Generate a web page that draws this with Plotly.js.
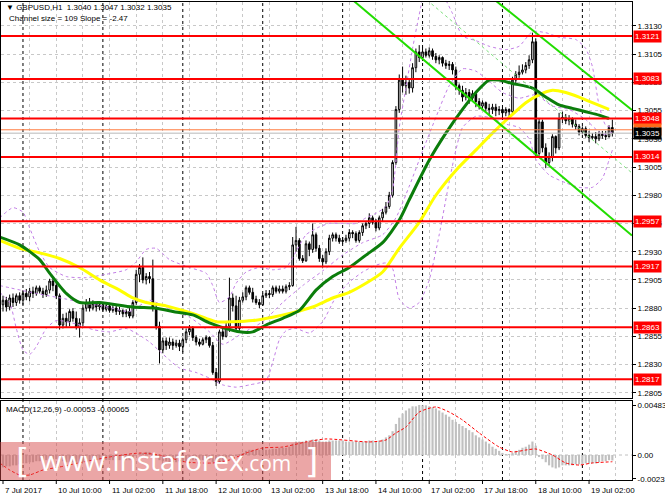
<!DOCTYPE html>
<html><head><meta charset="utf-8">
<script src="https://cdn.plot.ly/plotly-3.0.1.min.js"></script>
<style>html,body{margin:0;padding:0;background:#fff}#chart{width:665px;height:499px}</style>
</head><body><div id="chart"></div>
<script>
// ---------- DATA ----------
const openP = [1.2883,1.2887,1.2881,1.2889,1.2885,1.2891,1.2887,1.2893,1.2890,1.2895,
1.2893,1.2898,1.2895,1.2892,1.2896,1.2904,1.2900,1.2891,1.2865,1.2871,
1.2868,1.2877,1.2871,1.2863,1.2867,1.2880,1.2885,1.2880,1.2884,1.2881,
1.2883,1.2879,1.2882,1.2878,1.2880,1.2877,1.2878,1.2875,1.2877,1.2873,
1.2885,1.2910,1.2916,1.2905,1.2908,1.2906,1.2880,1.2864,1.2843,1.2851,
1.2847,1.2850,1.2847,1.2849,1.2846,1.2852,1.2859,1.2862,1.2854,1.2850,
1.2848,1.2852,1.2854,1.2847,1.2823,1.2815,1.2859,1.2855,1.2864,1.2889,
1.2882,1.2862,1.2887,1.2890,1.2898,1.2894,1.2888,1.2885,1.2883,1.2891,
1.2893,1.2892,1.2898,1.2895,1.2897,1.2895,1.2899,1.2900,1.2936,1.2940,
1.2924,1.2922,1.2937,1.2932,1.2945,1.2933,1.2924,1.2921,1.2930,1.2942,
1.2945,1.2942,1.2939,1.2940,1.2942,1.2947,1.2946,1.2940,1.2947,1.2953,
1.2955,1.2960,1.2956,1.2951,1.2960,1.2965,1.2970,1.2980,1.3009,1.3056,
1.3082,1.3077,1.3080,1.3075,1.3093,1.3107,1.3102,1.3107,1.3104,1.3108,
1.3103,1.3100,1.3102,1.3097,1.3095,1.3096,1.3091,1.3077,1.3073,1.3067,
1.3071,1.3066,1.3070,1.3063,1.3059,1.3062,1.3057,1.3056,1.3058,1.3055,
1.3056,1.3053,1.3056,1.3054,1.3082,1.3087,1.3089,1.3091,1.3095,1.3100,
1.3116,1.3017,1.3045,1.3022,1.3009,1.3014,1.3032,1.3022,1.3048,1.3049,
1.3046,1.3048,1.3043,1.3041,1.3036,1.3039,1.3033,1.3031,1.3032,1.3030,
1.3034,1.3033,1.3032,1.3040];
const highP = [1.2891,1.2890,1.2892,1.2893,1.2893,1.2894,1.2896,1.2897,1.2898,1.2899,
1.2900,1.2900,1.2898,1.2900,1.2906,1.2907,1.2903,1.2893,1.2875,1.2876,
1.2879,1.2880,1.2877,1.2871,1.2883,1.2888,1.2889,1.2887,1.2885,1.2885,
1.2885,1.2884,1.2883,1.2883,1.2882,1.2881,1.2879,1.2879,1.2880,1.2887,
1.2914,1.2919,1.2925,1.2911,1.2912,1.2923,1.2883,1.2868,1.2854,1.2854,
1.2854,1.2853,1.2852,1.2852,1.2854,1.2862,1.2865,1.2864,1.2856,1.2853,
1.2854,1.2856,1.2855,1.2850,1.2827,1.2861,1.2862,1.2868,1.2907,1.2893,
1.2891,1.2890,1.2894,1.2900,1.2900,1.2898,1.2891,1.2888,1.2893,1.2896,
1.2896,1.2900,1.2900,1.2900,1.2900,1.2901,1.2903,1.2943,1.2952,1.2942,
1.2927,1.2940,1.2939,1.2955,1.2947,1.2936,1.2927,1.2933,1.2945,1.2947,
1.2947,1.2945,1.2943,1.2945,1.2950,1.2949,1.2948,1.2949,1.2955,1.2957,
1.2964,1.2962,1.2959,1.2962,1.2968,1.2974,1.2983,1.3011,1.3059,1.3087,
1.3094,1.3086,1.3083,1.3097,1.3110,1.3113,1.3111,1.3110,1.3111,1.3110,
1.3106,1.3104,1.3103,1.3100,1.3099,1.3098,1.3094,1.3079,1.3077,1.3075,
1.3074,1.3073,1.3071,1.3066,1.3064,1.3063,1.3061,1.3061,1.3061,1.3059,
1.3058,1.3058,1.3057,1.3085,1.3090,1.3095,1.3096,1.3098,1.3104,1.3124,
1.3119,1.3048,1.3047,1.3026,1.3018,1.3034,1.3033,1.3053,1.3054,1.3052,
1.3051,1.3049,1.3047,1.3043,1.3041,1.3041,1.3037,1.3035,1.3036,1.3037,
1.3037,1.3037,1.3042,1.3047];
const lowP = [1.2877,1.2877,1.2878,1.2881,1.2882,1.2884,1.2883,1.2887,1.2886,1.2889,
1.2891,1.2893,1.2889,1.2890,1.2893,1.2895,1.2888,1.2861,1.2862,1.2863,
1.2864,1.2868,1.2861,1.2854,1.2864,1.2877,1.2877,1.2878,1.2877,1.2878,
1.2877,1.2877,1.2876,1.2876,1.2874,1.2874,1.2872,1.2872,1.2871,1.2871,
1.2883,1.2903,1.2902,1.2901,1.2902,1.2877,1.2861,1.2831,1.2840,1.2843,
1.2844,1.2843,1.2845,1.2842,1.2841,1.2849,1.2856,1.2851,1.2847,1.2846,
1.2847,1.2849,1.2845,1.2821,1.2811,1.2813,1.2852,1.2854,1.2859,1.2877,
1.2859,1.2860,1.2885,1.2887,1.2892,1.2885,1.2883,1.2880,1.2882,1.2889,
1.2889,1.2890,1.2893,1.2893,1.2893,1.2893,1.2896,1.2899,1.2930,1.2922,
1.2920,1.2921,1.2926,1.2929,1.2930,1.2921,1.2916,1.2919,1.2927,1.2939,
1.2939,1.2937,1.2937,1.2938,1.2939,1.2942,1.2938,1.2938,1.2944,1.2950,
1.2951,1.2954,1.2948,1.2949,1.2957,1.2963,1.2968,1.2978,1.3007,1.3053,
1.3071,1.3069,1.3070,1.3071,1.3089,1.3098,1.3099,1.3102,1.3102,1.3100,
1.3097,1.3096,1.3094,1.3092,1.3091,1.3087,1.3073,1.3069,1.3063,1.3064,
1.3061,1.3063,1.3058,1.3056,1.3056,1.3054,1.3051,1.3052,1.3050,1.3051,
1.3049,1.3050,1.3049,1.3052,1.3079,1.3084,1.3087,1.3088,1.3092,1.3097,
1.3014,1.3015,1.3018,1.3004,1.3006,1.3010,1.3017,1.3020,1.3044,1.3043,
1.3042,1.3040,1.3038,1.3033,1.3034,1.3031,1.3027,1.3029,1.3026,1.3028,
1.3030,1.3029,1.3031,1.3032];
const closeP = [1.2887,1.2881,1.2889,1.2885,1.2891,1.2887,1.2893,1.2890,1.2895,1.2893,
1.2898,1.2895,1.2892,1.2896,1.2904,1.2900,1.2891,1.2865,1.2871,1.2868,
1.2877,1.2871,1.2863,1.2867,1.2880,1.2885,1.2880,1.2884,1.2881,1.2883,
1.2879,1.2882,1.2878,1.2880,1.2877,1.2878,1.2875,1.2877,1.2873,1.2885,
1.2910,1.2916,1.2905,1.2908,1.2906,1.2880,1.2864,1.2843,1.2851,1.2847,
1.2850,1.2847,1.2849,1.2846,1.2852,1.2859,1.2862,1.2854,1.2850,1.2848,
1.2852,1.2854,1.2847,1.2823,1.2815,1.2859,1.2855,1.2864,1.2889,1.2882,
1.2862,1.2887,1.2890,1.2898,1.2894,1.2888,1.2885,1.2883,1.2891,1.2893,
1.2892,1.2898,1.2895,1.2897,1.2895,1.2899,1.2900,1.2936,1.2940,1.2924,
1.2922,1.2937,1.2932,1.2945,1.2933,1.2924,1.2921,1.2930,1.2942,1.2945,
1.2942,1.2939,1.2940,1.2942,1.2947,1.2946,1.2940,1.2947,1.2953,1.2955,
1.2960,1.2956,1.2951,1.2960,1.2965,1.2970,1.2980,1.3009,1.3056,1.3082,
1.3077,1.3080,1.3075,1.3093,1.3107,1.3102,1.3107,1.3104,1.3108,1.3103,
1.3100,1.3102,1.3097,1.3095,1.3096,1.3091,1.3077,1.3073,1.3067,1.3071,
1.3066,1.3070,1.3063,1.3059,1.3062,1.3057,1.3056,1.3058,1.3055,1.3056,
1.3053,1.3056,1.3054,1.3082,1.3087,1.3089,1.3091,1.3095,1.3100,1.3116,
1.3017,1.3045,1.3022,1.3009,1.3014,1.3032,1.3022,1.3048,1.3049,1.3046,
1.3048,1.3043,1.3041,1.3036,1.3039,1.3033,1.3031,1.3032,1.3030,1.3034,
1.3033,1.3032,1.3040,1.3035];

// moving averages (bar index, price)
const maGreenX = [-1,5,11,14,19,23,29,39,46,51,57,62,67,71,75,79,84,89,94,99,104,109,114,119,122,128,133,138,142,146,149,153,159,163,167,171,175,179,182];
const maGreenY = [1.2943,1.2936,1.2923,1.2911,1.2893,1.2885,1.2885,1.2881,1.2880,1.2877,1.2874,1.2867,1.2862,1.2859,1.2859,1.2865,1.2871,1.2878,1.2896,1.2908,1.2916,1.2927,1.2938,1.2958,1.2976,1.3011,1.3035,1.3056,1.3071,1.3082,1.3082,1.3079,1.3075,1.3067,1.3060,1.3057,1.3054,1.3051,1.3048];
const maYellowX = [-1,5,11,17,23,29,35,39,43,49,55,61,64,69,75,81,87,93,99,104,109,114,119,125,130,136,142,147,152,157,161,165,169,173,177,182];
const maYellowY = [1.2940,1.2933,1.2929,1.2924,1.2916,1.2905,1.2896,1.2889,1.2885,1.2882,1.2877,1.2871,1.2868,1.2868,1.2869,1.2872,1.2876,1.2881,1.2889,1.2894,1.2902,1.2912,1.2933,1.2956,1.2980,1.3002,1.3020,1.3035,1.3049,1.3062,1.3069,1.3073,1.3071,1.3067,1.3062,1.3056];

// bands (bar index, price)
const bbUpX = [-1,3,6,8,11,14,19,25,31,37,40,43,46,50,56,61,63,65,68,70,73,77,81,85,88,91,95,98,102,106,109,112,115,117,119,121,123,125,127,130,133,135,138,142,146,151,155,159,163,167,172,175,177,179,181,183];
const bbUpY = [1.2960,1.2969,1.2965,1.2951,1.2930,1.2916,1.2908,1.2907,1.2910,1.2914,1.2921,1.2932,1.2933,1.2923,1.2916,1.2911,1.2900,1.2885,1.2890,1.2902,1.2912,1.2916,1.2914,1.2916,1.2930,1.2945,1.2952,1.2955,1.2955,1.2955,1.2960,1.2964,1.2970,1.2985,1.3040,1.3075,1.3110,1.3140,1.3165,1.3172,1.3153,1.3141,1.3121,1.3117,1.3112,1.3109,1.3112,1.3125,1.3124,1.3120,1.3118,1.3110,1.3094,1.3060,1.3042,1.3040];
const bbMidX = [-1,10,19,25,30,38,44,50,56,62,66,72,78,84,90,96,102,108,114,118,122,126,130,134,138,142,146,150,155,160,165,170,175,180,183];
const bbMidY = [1.2900,1.2893,1.2888,1.2884,1.2882,1.2877,1.2887,1.2879,1.2872,1.2859,1.2848,1.2858,1.2868,1.2885,1.2900,1.2913,1.2927,1.2938,1.2945,1.2960,1.2988,1.3019,1.3049,1.3077,1.3092,1.3090,1.3081,1.3071,1.3066,1.3069,1.3059,1.3056,1.3047,1.3034,1.3036];
const bbLoX = [-1,2,4,6,8,10,13,16,22,27,32,37,41,44,47,50,53,58,62,66,70,74,79,81,83,85,88,92,96,100,104,108,112,115,117,119,122,125,128,131,134,136,138,142,146,151,155,158,160,164,169,173,177,180,182,183];
const bbLoY = [1.2894,1.2885,1.2862,1.2843,1.2839,1.2846,1.2862,1.2869,1.2866,1.2861,1.2859,1.2862,1.2856,1.2850,1.2842,1.2834,1.2827,1.2823,1.2818,1.2812,1.2810,1.2812,1.2816,1.2832,1.2852,1.2860,1.2862,1.2858,1.2868,1.2890,1.2903,1.2912,1.2918,1.2920,1.2915,1.2888,1.2880,1.2885,1.2905,1.2945,1.2992,1.3020,1.3040,1.3050,1.3049,1.3043,1.3040,1.3030,1.3012,1.2998,1.2991,1.2987,1.2987,1.2995,1.3011,1.3020];

// channel (start/end points: bar index, price)
const chanUpper = {x:[147.7,188.9], y:[1.3153,1.30555]};
const chanLower = {x:[105.0,188.9], y:[1.3153,1.29444]};
const chanMid   = {x:[127.3,188.9], y:[1.3153,1.29997]};

// support / resistance levels
const levels = [1.3121,1.3083,1.3048,1.3014,1.2957,1.2917,1.2863,1.2817];
const bidPrice = 1.3035, askPrice = 1.3038;

// MACD(12,26,9)
const macdMain = [
-0.0012,-0.0011,-0.0011,-0.0010,-0.0010,-0.0009,
-0.0008,-0.0008,-0.0007,-0.0007,-0.0006,-0.0006,-0.0005,-0.0005,-0.0004,-0.0004,-0.0004,
-0.0005,-0.0006,-0.0007,-0.0007,-0.0007,-0.0008,-0.0008,-0.0007,
-0.0006,-0.0006,-0.0005,-0.0005,-0.0005,-0.0005,-0.0005,-0.0005,-0.0005,-0.0005,-0.0005,-0.0005,-0.0005,-0.0005,-0.0004,
0.0000,0.0002,0.0002,0.0003,0.0003,0.0001,
-0.0002,-0.0005,-0.0006,-0.0006,-0.0007,-0.0007,-0.0007,-0.0007,-0.0007,-0.0006,-0.0005,-0.0005,-0.0005,-0.0005,-0.0005,-0.0005,-0.0005,
-0.0007,-0.0009,-0.0007,-0.0006,-0.0005,
-0.0002,-0.0001,-0.0001,0.0001,0.0002,0.0004,0.0005,0.0005,
0.0005,0.0005,0.0005,0.0005,0.0005,0.0006,0.0006,0.0007,0.0007,0.0007,0.0008,
0.0011,0.0013,0.0013,0.0013,0.0014,0.0014,0.0015,0.0015,0.0014,0.0013,0.0013,0.0014,
0.0014,0.0014,0.0014,0.0014,0.0013,0.0013,0.0013,0.0013,0.0013,0.0013,0.0013,0.0014,0.0014,0.0013,0.0014,0.0015,
0.0017,0.0019,0.0023,0.0030,0.0036,
0.0040,0.0043,0.0045,0.0047,0.0047,0.00483,0.0048,0.0048,0.0047,0.0046,0.0045,0.0043,
0.0041,0.0039,0.0037,0.0034,0.0032,0.0030,0.0028,0.0026,0.0024,0.0022,0.0019,0.0017,0.0015,0.0013,0.0011,0.0008,0.0006,0.0004,
0.0002,0.0001,0.0001,0.0002,0.0004,0.0005,0.0007,0.0008,0.0010,0.0013,0.0009,
-0.0002,-0.0004,-0.0007,-0.0010,-0.0012,-0.0013,-0.0012,
-0.0010,-0.0010,-0.0010,-0.0010,-0.0009,-0.0009,-0.0009,-0.0008,-0.0008,-0.0008,-0.0008,-0.0007,-0.0006,-0.0006,-0.0005,-0.00053];
const macdSigX = [-1,2,5,8,12,17,24,32,41,47,55,63,68,73,78,84,91,97,110,115,118,121,125,130,134,138,143,149,153,157,160,165,169,173,177,183];
const macdSigY = [-0.00077,-0.00145,-0.00193,-0.00193,-0.00145,-0.00116,-0.00068,-0.00019,0.00019,0.0,-0.00068,-0.00077,-0.00048,0.00019,0.00068,0.00077,0.00126,0.00155,0.00126,0.00145,0.00213,0.0027,0.00415,0.00464,0.00415,0.00338,0.00213,0.00077,0.00029,0.00048,0.00058,0.0,-0.00077,-0.00097,-0.00077,-0.00065];

// axis labels
const priceTicks = [1.2805,1.2830,1.2855,1.2880,1.2905,1.2930,1.2955,1.2980,1.3005,1.3030,1.3055,1.3080,1.3105,1.3130];
const macdTicks = [0.00483,0,-0.00231];
const macdTickText = ['0.00483','0.00','-0.00231'];
const timeLabelBars = [0,16,32,48,64,80,96,112,128,144,160,176];
const timeLabels = ['7 Jul 2017','10 Jul 10:00','11 Jul 02:00','11 Jul 18:00','12 Jul 10:00','13 Jul 02:00','13 Jul 18:00','14 Jul 10:00','17 Jul 02:00','17 Jul 18:00','18 Jul 10:00','19 Jul 02:00'];
const daySeparatorBars = [6,30,54,78,102,126,150,174];
const gridBars = [8,16,24,32,40,48,56,64,72,80,88,96,104,112,120,128,136,144,152,160,168,176,184];

// ---------- LAYOUT HELPERS ----------
const PL=1, PT=2, PW=631, PH=478;
const px = x => (x-PL)/PW;
const py = y => (PT+PH-y)/PH;
const FONT = 'Liberation Sans, Arial, sans-serif';
const FS = 8;
const bars = closeP.map((_, i) => i);

const traces = [];
traces.push({type:'candlestick', x:bars, open:openP, high:highP, low:lowP, close:closeP,
  xaxis:'x', yaxis:'y', whiskerwidth:0,
  increasing:{line:{color:'#000000',width:1}, fillcolor:'#ffffff'},
  decreasing:{line:{color:'#000000',width:1}, fillcolor:'#000000'},
  hoverinfo:'skip', showlegend:false});
const bandStyle = {color:'#c27ee6', width:1, dash:'dot'};
[[bbUpX,bbUpY],[bbMidX,bbMidY],[bbLoX,bbLoY]].forEach(([bx,by]) => traces.push({type:'scatter', mode:'lines', x:bx, y:by, xaxis:'x', yaxis:'y', line:Object.assign({shape:'spline', smoothing:0.6}, bandStyle), hoverinfo:'skip', showlegend:false}));
traces.push({type:'scatter', mode:'lines', x:maYellowX, y:maYellowY, xaxis:'x', yaxis:'y', line:{color:'#ffff00', width:3, shape:'spline', smoothing:0.7}, hoverinfo:'skip', showlegend:false});
traces.push({type:'scatter', mode:'lines', x:maGreenX, y:maGreenY, xaxis:'x', yaxis:'y', line:{color:'#0b7d0b', width:3, shape:'spline', smoothing:0.7}, hoverinfo:'skip', showlegend:false});
traces.push({type:'scatter', mode:'lines', x:chanUpper.x, y:chanUpper.y, xaxis:'x', yaxis:'y', line:{color:'#22dd00', width:2}, hoverinfo:'skip', showlegend:false});
traces.push({type:'scatter', mode:'lines', x:chanLower.x, y:chanLower.y, xaxis:'x', yaxis:'y', line:{color:'#22dd00', width:2}, hoverinfo:'skip', showlegend:false});
traces.push({type:'scatter', mode:'lines', x:chanMid.x, y:chanMid.y, xaxis:'x', yaxis:'y', line:{color:'#7ee07e', width:1, dash:'3px,3px'}, hoverinfo:'skip', showlegend:false});
traces.push({type:'bar', x:bars, y:macdMain, xaxis:'x', yaxis:'y2', marker:{color:'#c0c0c0', line:{width:0}}, hoverinfo:'skip', showlegend:false});
traces.push({type:'scatter', mode:'lines', x:macdSigX, y:macdSigY, xaxis:'x', yaxis:'y2', line:{color:'#ff0000', width:1, dash:'3px,2px', shape:'spline', smoothing:0.6}, hoverinfo:'skip', showlegend:false});

const shapes = [];
daySeparatorBars.forEach(b => shapes.push({type:'line', xref:'x', yref:'paper', x0:b, x1:b, y0:0, y1:1, line:{color:'#000000', width:1, dash:'3px,3px'}, layer:'below'}));
shapes.push({type:'line', xref:'paper', yref:'y', x0:0, x1:1, y0:bidPrice, y1:bidPrice, line:{color:'#b8b8b8', width:1}});
shapes.push({type:'line', xref:'paper', yref:'y', x0:0, x1:1, y0:askPrice, y1:askPrice, line:{color:'#ff7a3c', width:1}});
levels.forEach(v => shapes.push({type:'line', xref:'paper', yref:'y', x0:0, x1:1, y0:v, y1:v, line:{color:'#ff0000', width:2}}));
shapes.push({type:'line', xref:'paper', yref:'y2', x0:0, x1:1, y0:0, y1:0, line:{color:'#c0c0c0', width:1, dash:'3px,3px'}, layer:'below'});
timeLabelBars.forEach(b => shapes.push({type:'line', xref:'x', yref:'paper', x0:b, x1:b, y0:0, y1:py(484), line:{color:'#000000', width:1}}));
// watermark box
shapes.push({type:'rect', xref:'paper', yref:'paper', x0:px(0), x1:px(331), y0:py(480), y1:py(442), fillcolor:'rgba(214,70,70,0.48)', line:{width:0}, layer:'above'});

const ann = [];
const labelFont = {family:FONT, size:FS, color:'#ffffff'};
levels.forEach(v => ann.push({xref:'paper', yref:'y', x:1, y:v, xanchor:'left', yanchor:'middle', xshift:1, text:v.toFixed(4), showarrow:false, bgcolor:'#ff0000', font:labelFont, borderpad:1}));
ann.push({xref:'paper', yref:'y', x:1, y:askPrice, xanchor:'left', yanchor:'middle', xshift:1, text:askPrice.toFixed(4), showarrow:false, bgcolor:'#ff6a1a', font:labelFont, borderpad:1});
ann.push({xref:'paper', yref:'y', x:1, y:bidPrice, xanchor:'left', yanchor:'middle', xshift:1, text:bidPrice.toFixed(4), showarrow:false, bgcolor:'#000000', font:labelFont, borderpad:1});
timeLabels.forEach((t,i) => ann.push({xref:'x', yref:'paper', x:timeLabelBars[i], y:py(490), xanchor:'left', yanchor:'middle', text:t, showarrow:false, font:{family:FONT, size:FS, color:'#000000'}}));
ann.push({xref:'paper', yref:'paper', x:px(4), y:py(8), xanchor:'left', yanchor:'middle', showarrow:false, text:'\u25BC GBPUSD,H1  1.3040 1.3047 1.3032 1.3035', font:{family:FONT, size:FS, color:'#000000'}});
ann.push({xref:'paper', yref:'paper', x:px(7), y:py(19), xanchor:'left', yanchor:'middle', showarrow:false, text:'Channel size = 109 Slope = -2.47', font:{family:FONT, size:FS, color:'#000000'}});
ann.push({xref:'paper', yref:'paper', x:px(4), y:py(409), xanchor:'left', yanchor:'middle', showarrow:false, text:'MACD(12,26,9) -0.00053 -0.00065', font:{family:FONT, size:FS, color:'#000000'}});
// watermark text
ann.push({xref:'paper', yref:'paper', x:px(14), y:py(461), xanchor:'left', yanchor:'middle', showarrow:false, text:'[', font:{family:'DejaVu Sans, sans-serif', size:34, color:'#ffffff'}});
ann.push({xref:'paper', yref:'paper', x:px(38), y:py(460), xanchor:'left', yanchor:'middle', showarrow:false, text:"www.instaforex<span style='font-size:21px'>.com</span>", font:{family:'Open Sans, DejaVu Sans, sans-serif', size:28, color:'#ffffff'}});
ann.push({xref:'paper', yref:'paper', x:px(303), y:py(461), xanchor:'left', yanchor:'middle', showarrow:false, text:']', font:{family:'DejaVu Sans, sans-serif', size:34, color:'#ffffff'}});

const layout = {
  width:665, height:499, margin:{l:PL, r:665-PL-PW, t:PT, b:499-PT-PH, pad:0},
  paper_bgcolor:'#ffffff', plot_bgcolor:'#ffffff', showlegend:false, bargap:0.35,
  font:{family:FONT, size:FS, color:'#000000'},
  xaxis:{range:[-0.6,188.9], anchor:'y2', rangeslider:{visible:false}, tickvals:gridBars, showticklabels:false, ticks:'',
    showgrid:true, gridcolor:'#c8c8c8', griddash:'3px,3px', gridwidth:1, zeroline:false,
    showline:true, linecolor:'#000000', linewidth:1, mirror:'all'},
  yaxis:{domain:[py(398),1], range:[1.28004,1.31512], side:'right', tickvals:priceTicks, ticktext:priceTicks.map(v=>v.toFixed(4)),
    ticks:'outside', ticklen:3, tickcolor:'#000000', showgrid:true, gridcolor:'#c8c8c8', griddash:'3px,3px', zeroline:false,
    showline:true, linecolor:'#000000', linewidth:1, mirror:true, tickfont:{family:FONT, size:FS}},
  yaxis2:{domain:[0,py(401)], range:[-0.002415,0.005216], side:'right', tickvals:macdTicks, ticktext:macdTickText,
    ticks:'outside', ticklen:3, tickcolor:'#000000', showgrid:false, zeroline:false,
    showline:true, linecolor:'#000000', linewidth:1, mirror:true, tickfont:{family:FONT, size:FS}},
  shapes:shapes, annotations:ann
};
Plotly.newPlot('chart', traces, layout, {staticPlot:true, displayModeBar:false});
</script></body></html>
